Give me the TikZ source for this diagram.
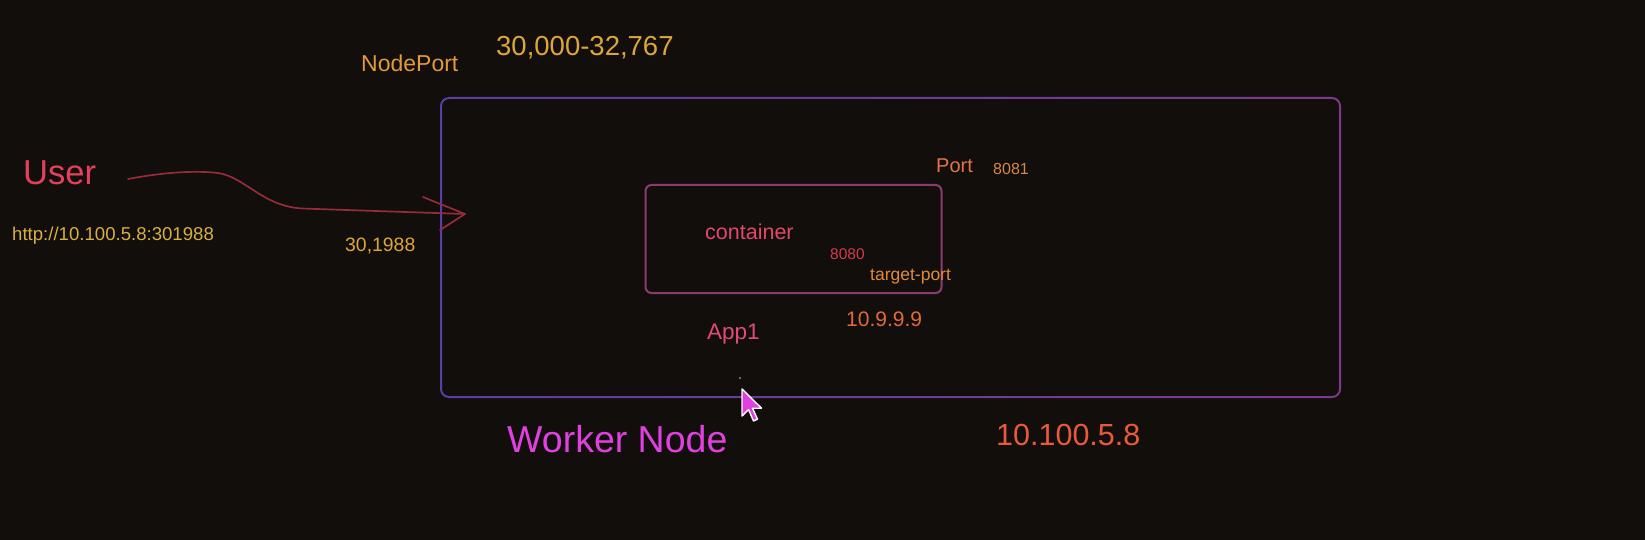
\documentclass[tikz,border=0pt]{standalone}
\usepackage{fontspec}
\setmainfont{Liberation Sans}
\definecolor{bg}{HTML}{120E0B}
\definecolor{cboxl}{HTML}{5A3EA6}
\definecolor{cboxr}{HTML}{7C3A8C}
\definecolor{cinner}{HTML}{8C3A72}
\definecolor{cuser}{HTML}{E2405C}
\definecolor{carrow}{HTML}{952C3C}
\definecolor{cyel}{HTML}{D8B040}
\definecolor{cgold}{HTML}{DCA638}
\definecolor{corange}{HTML}{E29A3A}
\definecolor{cport}{HTML}{E27448}
\definecolor{cportnum}{HTML}{D8864A}
\definecolor{ccont}{HTML}{E2486A}
\definecolor{ceighty}{HTML}{D23A52}
\definecolor{ctarget}{HTML}{E28A3A}
\definecolor{capp}{HTML}{E24A7C}
\definecolor{cip}{HTML}{E26A3A}
\definecolor{cworker}{HTML}{E040E0}
\definecolor{cnodeip}{HTML}{E85A3A}
\begin{document}
\begin{tikzpicture}[x=1pt,y=-1pt,
  lbl/.style={inner sep=0pt, anchor=base west},
  fs/.style={font=\fontsize{#1}{#1}\selectfont},
  framebox/.style={inner sep=0pt, outer sep=0pt, anchor=north west},
  userarrow/.style={draw=carrow, line width=1.7pt, line cap=round, line join=round}]
\useasboundingbox (0,0) rectangle (1645,540);
\fill[bg] (0,0) rectangle (1645,540);

% boxes
\node[framebox, minimum width=899pt, minimum height=299pt] (worker) at (441,98) {};
\shade[left color=cboxl, right color=cboxr, even odd rule]
  [rounded corners=9pt] ([shift={(-1,-1)}]worker.north west) rectangle ([shift={(1,1)}]worker.south east)
  [rounded corners=7pt] ([shift={(1,1)}]worker.north west) rectangle ([shift={(-1,-1)}]worker.south east);
\node[framebox, draw=cinner, line width=2pt, rounded corners=6pt, minimum width=296pt, minimum height=108pt] (container) at (645.5,185) {};

% texts
\node[lbl, fs=34.6, text=cuser] (user) at (23,185) {User};
\node[lbl, fs=18.6, text=cyel] (url) at (12,240) {http://10.100.5.8:301988};
\node[lbl, fs=19.4, text=cgold] (np) at (345,251) {30,1988};
\node[lbl, fs=23, text=corange] (nodeport) at (361,71.5) {NodePort};
\node[lbl, fs=27.5, text=cgold] (range) at (496,56) {30,000-32,767};
\node[lbl, fs=20, text=cport] (port) at (936,173) {Port};
\node[lbl, fs=16, text=cportnum] (portnum) at (993,175) {8081};
\node[lbl, fs=21.5, text=ccont] (cont) at (705,239) {container};
\node[lbl, fs=15.5, text=ceighty] (tport) at (830,259) {8080};
\node[lbl, fs=17.5, text=ctarget] (target) at (870,280) {target-port};
\node[lbl, fs=22.5, text=capp] (app) at (707,339) {App1};
\node[lbl, fs=21, text=cip] (podip) at (846,326) {10.9.9.9};
\node[lbl, fs=37.5, text=cworker] (wn) at (507,452) {Worker Node};
\node[lbl, fs=30.5, text=cnodeip] (nodeip) at (996,445.5) {10.100.5.8};

% user arrow
\coordinate (astart) at (128,179);
\coordinate (atip) at (465,214);
\draw[userarrow] (astart) .. controls (160,173) and (192,170) .. (218,173)
  .. controls (245,177) and (262,206) .. (302,208.5) -- (atip);
\draw[userarrow] (423,197) -- (atip) -- (440,230);

% cursor
\fill[gray!40] (740,378) circle (0.9pt);
\coordinate (ctip) at (742,389);
\filldraw[fill=cworker, draw=white, line width=1.4pt, line join=round]
  (ctip) -- ++(0,27) -- ++(6.5,-6.5) -- ++(5,11.5) -- ++(4,-1.8) -- ++(-5,-11) -- ++(9,0) -- cycle;
\end{tikzpicture}
\end{document}
